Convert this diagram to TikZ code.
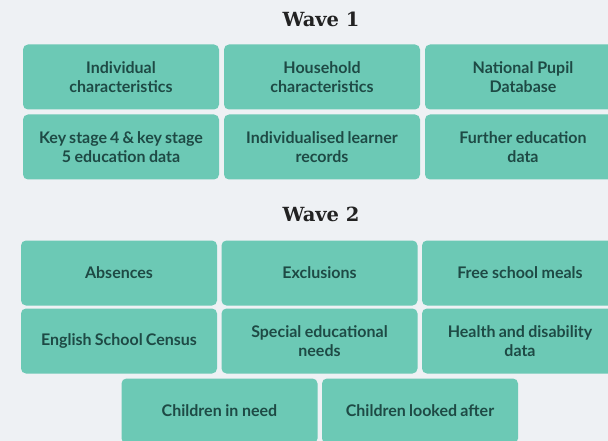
\documentclass[tikz,border=0pt]{standalone}
\usepackage{fontspec}
\setmainfont{Lato}
\newfontfamily\titlefont{DejaVu Serif}
\definecolor{bgc}{HTML}{EEF1F4}
\definecolor{boxc}{HTML}{6CC9B5}
\definecolor{txtc}{HTML}{1E4A45}
\definecolor{titc}{HTML}{222222}
\tikzset{
  databox/.style={fill=boxc, rounded corners=5pt, minimum width=196pt, minimum height=65pt,
    inner sep=0pt, align=center, text width=188pt, text=txtc,
    font=\fontsize{16pt}{19.5pt}\selectfont\bfseries,
    execute at begin node={\spaceskip=0.17em plus 0.05em\relax}},
  wavetitle/.style={anchor=base, text=titc, font=\titlefont\fontsize{19.5pt}{22pt}\selectfont\bfseries, inner sep=0pt}
}
\begin{document}
\begin{tikzpicture}[x=1pt,y=-1pt]
\useasboundingbox (0,0) rectangle (608,441);
\clip (0,0) rectangle (608,441);
\fill[bgc] (0,0) rectangle (608,441);
\node[wavetitle] (t1) at (321,27) {Wave 1};
\node[databox] (a1) at (121,77) {Individual\\characteristics};
\node[databox] (a2) at (322,77) {Household\\characteristics};
\node[databox] (a3) at (523,77) {National Pupil\\Database};
\node[databox] (b1) at (121,147) {Key stage 4 \& key stage\\5 education data};
\node[databox] (b2) at (322,147) {Individualised learner\\records};
\node[databox] (b3) at (523,147) {Further education\\data};
\node[wavetitle] (t2) at (321,222) {Wave 2};
\node[databox] (c1) at (119,273) {Absences};
\node[databox] (c2) at (319.5,273) {Exclusions};
\node[databox] (c3) at (520,273) {Free school meals};
\node[databox] (d1) at (119,341) {English School Census};
\node[databox] (d2) at (319.5,341) {Special educational\\needs};
\node[databox] (d3) at (520,341) {Health and disability\\data};
\node[databox] (e1) at (219.5,411) {Children in need};
\node[databox] (e2) at (420,411) {Children looked after};
\end{tikzpicture}
\end{document}
